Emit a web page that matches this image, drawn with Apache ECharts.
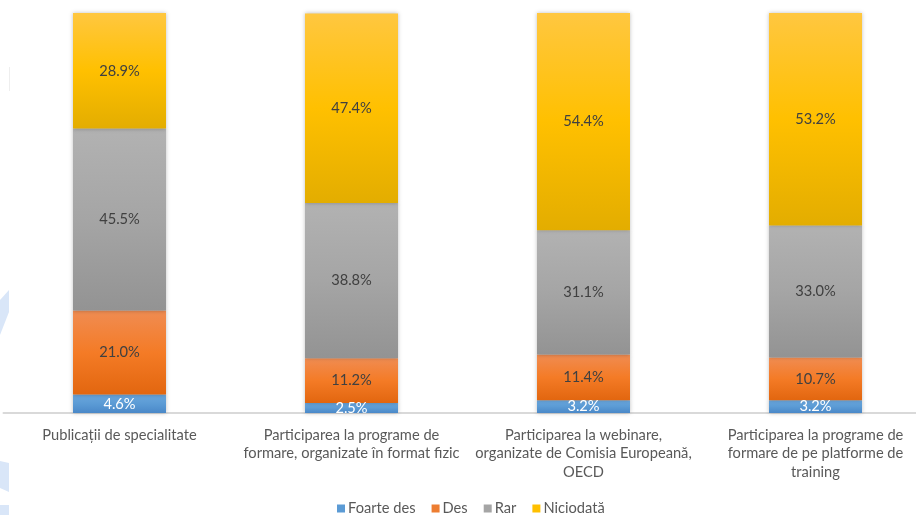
<!DOCTYPE html>
<html>
<head>
<meta charset="utf-8">
<script src="https://cdn.jsdelivr.net/npm/echarts@6/dist/echarts.min.js"></script>
<style>html,body{margin:0;padding:0;background:#fff;overflow:hidden;width:916px;height:515px}#c{width:932px;height:515px}</style>
</head>
<body>
<div id="c"></div>
<script>
const categories = [
  "Publicații de specialitate",
  "Participarea la programe de\nformare, organizate în format fizic",
  "Participarea la webinare,\norganizate de Comisia Europeană,\nOECD",
  "Participarea la programe de\nformare de pe platforme de\ntraining"
];
const seriesNames = ["Foarte des", "Des", "Rar", "Niciodată"];
const foarteDes = [4.6, 2.5, 3.2, 3.2];
const des = [21.0, 11.2, 11.4, 10.7];
const rar = [45.5, 38.8, 31.1, 33.0];
const niciodata = [28.9, 47.4, 54.4, 53.2];

const FONT = 'Lato';
const FS = 14.67;
function grad(top, mid, bot) {
  return new echarts.graphic.LinearGradient(0, 0, 0, 1, [
    {offset: 0, color: top}, {offset: 0.5, color: mid}, {offset: 1, color: bot}
  ]);
}
const styles = [
  {fill: grad('#6aa6dc', '#5b9bd5', '#4a88c8'), legend: '#5b9bd5', label: '#ffffff'},
  {fill: grad('#f08c52', '#f47b26', '#e2660f'), legend: '#ed7d31', label: '#404040'},
  {fill: grad('#b2b2b2', '#a5a5a5', '#939393'), legend: '#a5a5a5', label: '#404040'},
  {fill: grad('#ffc740', '#ffc000', '#e3ad00'), legend: '#ffc000', label: '#404040'}
];
const data = [foarteDes, des, rar, niciodata];

const chart = echarts.init(document.getElementById('c'), null, {renderer: 'canvas'});
chart.setOption({
  animation: false,
  backgroundColor: '#ffffff',
  textStyle: {fontFamily: FONT},
  graphic: [
    {type: 'polygon', shape: {points: [[0, 300], [9, 290], [9, 312], [0, 335]]}, style: {fill: '#d9e6f8'}},
    {type: 'polygon', shape: {points: [[0, 461], [9, 463], [9, 492], [0, 488]]}, style: {fill: '#d9e6f8'}},
    {type: 'polygon', shape: {points: [[0, 505], [9, 505], [9, 515], [0, 515]]}, style: {fill: '#d9e6f8'}},
    {type: 'rect', shape: {x: 9, y: 67, width: 1, height: 24}, style: {fill: '#eeeeee'}}
  ],
  legend: {
    top: 496,
    left: 332,
    itemWidth: 8,
    itemHeight: 8,
    itemGap: 16,
    icon: 'rect',
    textStyle: {fontFamily: FONT, fontSize: FS, color: '#595959', padding: [0, 0, 0, -2]},
    data: seriesNames.map((n, i) => ({name: n, itemStyle: {color: styles[i].legend}}))
  },
  grid: {left: 3.5, top: 13, right: 0.5, height: 400, containLabel: false},
  xAxis: {
    type: 'category',
    data: categories,
    axisLine: {show: true, lineStyle: {color: '#d9d9d9', width: 2}},
    axisTick: {show: false},
    axisLabel: {
      interval: 0,
      fontFamily: FONT,
      fontSize: FS,
      color: '#595959',
      lineHeight: 18.5,
      margin: 13,
      align: 'center'
    }
  },
  yAxis: {type: 'value', min: 0, max: 100, show: false, splitLine: {show: false}},
  series: seriesNames.map((n, i) => ({
    name: n,
    type: 'bar',
    stack: 'total',
    barWidth: 93,
    data: data[i],
    itemStyle: {color: styles[i].fill, shadowColor: 'rgba(0,0,0,0.25)', shadowBlur: 4, shadowOffsetX: 0},
    label: {
      show: true,
      position: 'inside',
      formatter: p => p.value.toFixed(1) + '%',
      fontFamily: FONT,
      fontSize: FS,
      color: styles[i].label
    }
  }))
});
</script>
</body>
</html>
